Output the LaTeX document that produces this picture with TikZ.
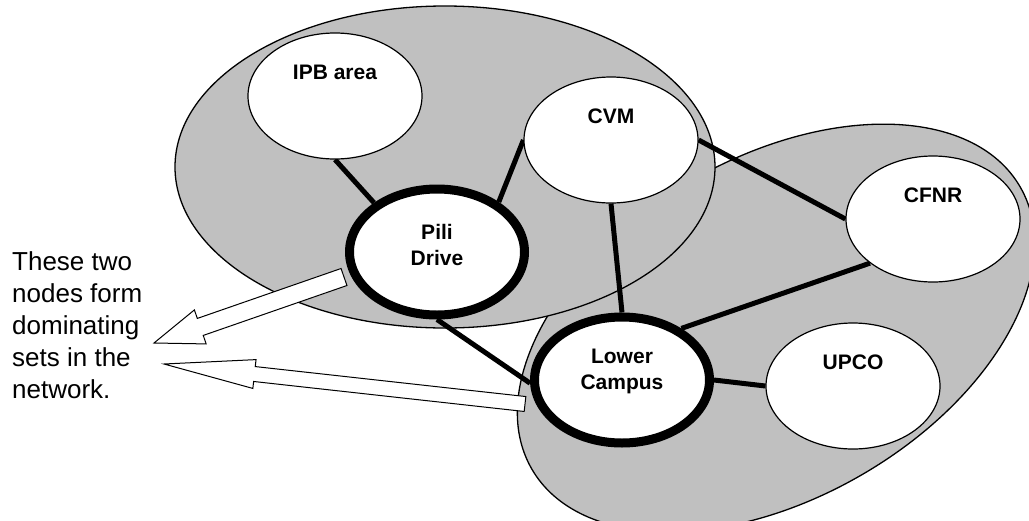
\documentclass[tikz,border=0pt]{standalone}
\usepackage{fontspec}
\setmainfont{Liberation Sans}
\usetikzlibrary{shapes.geometric,calc,backgrounds}
\definecolor{silver}{RGB}{192,192,192}

\begin{document}
\begin{tikzpicture}[
    x=1pt, y=-1pt,
    region/.style={ellipse, draw, line width=1.3pt, fill=silver, inner sep=0pt},
    site/.style={ellipse, draw, line width=1.2pt, fill=white, inner sep=0pt, minimum width=174pt, minimum height=126pt},
    hub/.style={site, line width=9pt, minimum width=175pt},
    tag/.style={font=\fontsize{21}{26}\selectfont\bfseries, align=center, inner sep=0pt, anchor=center},
    link/.style={line width=5pt},
    block/.style={draw, line width=1pt, fill=white, line join=miter},
    note/.style={font=\fontsize{26}{32}\selectfont, align=left, inner sep=0pt}
]
    \useasboundingbox (0,0) rectangle (1029,520);

    % campus sites
    \node[site, label={[tag, yshift=-40pt]north:IPB area}] (ipb) at (335,96) {};
    \node[site, label={[tag, yshift=-40pt]north:CVM}] (cvm) at (611,140) {};
    \node[site, label={[tag, yshift=-40pt]north:CFNR}] (cfnr) at (933,219) {};
    \node[site, label={[tag, yshift=-40pt]north:UPCO}] (upco) at (853,386) {};
    \node[hub, label={[tag, yshift=-60pt]north:Pili\\Drive}] (pili) at (437,252) {};
    \node[hub, label={[tag, yshift=-59pt]north:Lower\\Campus}] (lower) at (622,380) {};

    \begin{scope}[on background layer]
        \path[fill=white] (0,0) rectangle (1029,520);
        \node[region, rotate=30, minimum width=564pt, minimum height=340pt] (east) at (776,328) {};
        \node[region, minimum width=540pt, minimum height=322pt] (west) at (445,167) {};

        \draw[link] (ipb.south) -- (pili.142);
        \draw[link] (pili.39) -- (cvm.west);
        \draw[link] (cvm.south) -- (lower.north);
        \draw[link] (cvm.east) -- (cfnr.west);
        \draw[link] (cfnr.215) -- (lower.41);
        \draw[link] (lower.east) -- (upco.west);
        \draw[link] (pili.south) -- (lower.182);
    \end{scope}

    \node[note, anchor=north west] (note) at (12,251) {These two\\nodes form\\dominating\\sets in the\\network.};

    % block arrows to the note
    \coordinate (pointA) at (344,277);
    \coordinate (tipA) at (154,343);
    \coordinate (pointB) at (525,404);
    \coordinate (tipB) at (164,364);
    \foreach \tail/\tip/\sw/\hw/\hl in {pointA/tipA/9pt/18pt/49pt, pointB/tipB/7.5pt/14.5pt/91pt} {
        \coordinate (base) at ($(\tip)!\hl!(\tail)$);
        \draw[block] ($(\tail)!\sw!90:(\tip)$) -- ($(base)!\sw!90:(\tip)$) -- ($(base)!\hw!90:(\tip)$)
            -- (\tip) -- ($(base)!\hw!-90:(\tip)$) -- ($(base)!\sw!-90:(\tip)$) -- ($(\tail)!\sw!-90:(\tip)$) -- cycle;
    }
\end{tikzpicture}
\end{document}
